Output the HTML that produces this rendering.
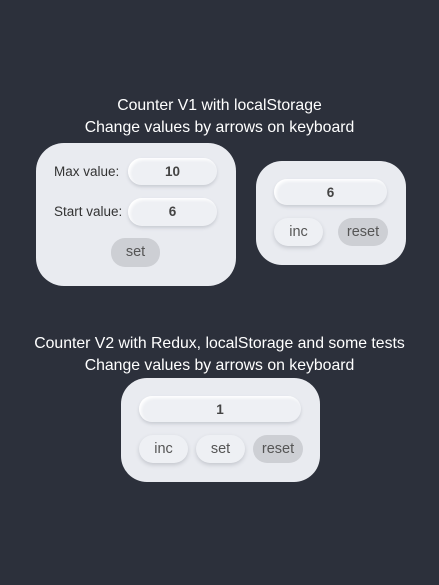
<!DOCTYPE html>
<html><head><style>
body{margin:0;width:439px;height:585px;background:#2c303b;font-family:"Liberation Sans",sans-serif;position:relative;overflow:hidden}
.t{position:absolute;left:0;width:439px;text-align:center;color:#fff;font-size:15.8px;line-height:22px}
.p{position:absolute;background:#e9ebf0;border-radius:28px}
.i{position:absolute;background:#eef0f4;border-radius:14px;box-shadow:inset 2px 2px 3px #fff,0 2px 3px #c9ccd3;text-align:center;font-weight:bold;font-size:13.5px;color:#444;line-height:27px}
.b{position:absolute;border-radius:14px;text-align:center;font-size:14.5px;color:#555;line-height:28px;background:#eef0f4;box-shadow:0 2px 4px #c4c7ce}
.g{background:#cdcfd4;box-shadow:none}
.l{position:absolute;font-size:13.5px;color:#333}
</style></head><body>
<div class="t" style="top:95px">Counter V1 with localStorage<br>Change values by arrows on keyboard</div>
<div class="p" style="left:36px;top:143px;width:200px;height:143px"></div>
<div class="l" style="left:54px;top:164px">Max value:</div>
<div class="l" style="left:54px;top:204px">Start value:</div>
<div class="i" style="left:128px;top:158px;width:89px;height:27px">10</div>
<div class="i" style="left:128px;top:198px;width:89px;height:28px">6</div>
<div class="b g" style="left:111px;top:238px;width:49px;height:29px">set</div>
<div class="p" style="left:256px;top:161px;width:150px;height:104px;border-radius:26px"></div>
<div class="i" style="left:274px;top:179px;width:113px;height:26px">6</div>
<div class="b" style="left:274px;top:218px;width:49px;height:28px">inc</div>
<div class="b g" style="left:338px;top:218px;width:50px;height:28px">reset</div>
<div class="t" style="top:333px">Counter V2 with Redux, localStorage and some tests<br>Change values by arrows on keyboard</div>
<div class="p" style="left:121px;top:378px;width:199px;height:104px;border-radius:26px"></div>
<div class="i" style="left:139px;top:396px;width:162px;height:26px">1</div>
<div class="b" style="left:139px;top:435px;width:49px;height:28px">inc</div>
<div class="b" style="left:196px;top:435px;width:49px;height:28px">set</div>
<div class="b g" style="left:253px;top:435px;width:50px;height:28px">reset</div>
</body></html>
